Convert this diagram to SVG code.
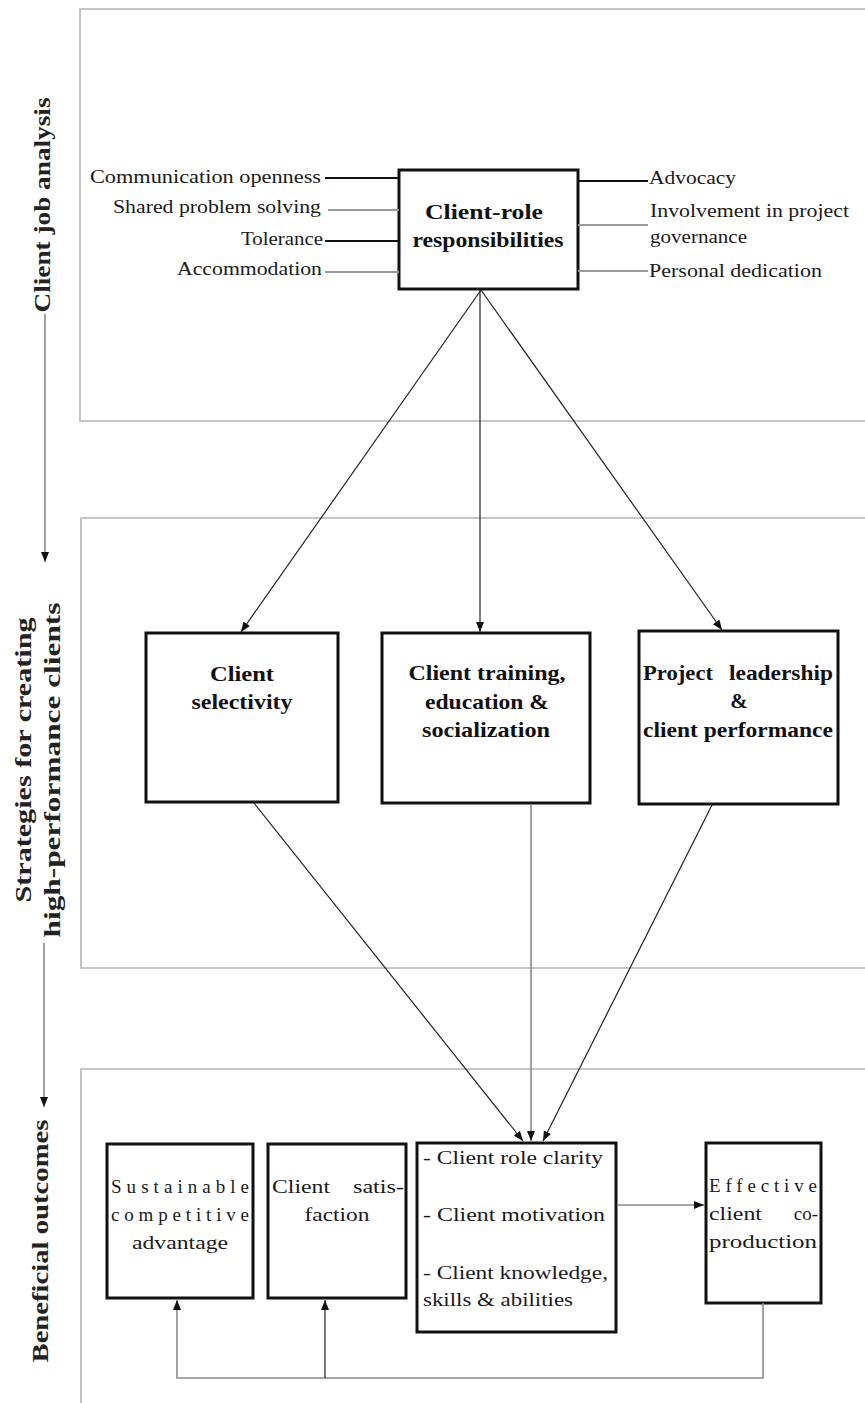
<svg xmlns="http://www.w3.org/2000/svg" width="865" height="1403" viewBox="0 0 865 1403">
<style>
.panel{fill:none;stroke:#b4b4b4;stroke-width:1.6}
.box{fill:#fff;stroke:#111;stroke-width:3}
.t{font-family:"Liberation Serif","Times New Roman",serif;font-size:19px;fill:#1a1a1a}
.b{font-family:"Liberation Serif","Times New Roman",serif;font-size:21px;font-weight:bold;fill:#111}
.side{font-family:"Liberation Serif","Times New Roman",serif;font-size:23px;font-weight:bold;fill:#222}
.k{stroke:#111;stroke-width:1.8;fill:none}
.g{stroke:#9a9a9a;stroke-width:2.2;fill:none}
.c{stroke:#222;stroke-width:1.2;fill:none}
.cg{stroke:#8a8a8a;stroke-width:1.6;fill:none}
</style>
<defs>
<marker id="ah" viewBox="0 0 10 8" refX="10" refY="4" markerWidth="10" markerHeight="8" markerUnits="userSpaceOnUse" orient="auto">
<path d="M0,0 L10,4 L0,8 Z" fill="#111"/>
</marker>
</defs>
<rect width="865" height="1403" fill="#fff"/>

<g id="panels">
<path class="panel" d="M866,9 H80 V421 H866"/>
<path class="panel" d="M866,518 H81 V968 H866"/>
<path class="panel" d="M866,1069 H81 V1404"/>
</g>

<g id="side-labels">
<text class="side" transform="translate(50,205) rotate(-90)" text-anchor="middle" textLength="215" lengthAdjust="spacingAndGlyphs">Client job analysis</text>
<text class="side" transform="translate(31,760) rotate(-90)" text-anchor="middle" textLength="285" lengthAdjust="spacingAndGlyphs">Strategies for creating</text>
<text class="side" transform="translate(60,770) rotate(-90)" text-anchor="middle" textLength="335" lengthAdjust="spacingAndGlyphs">high-performance clients</text>
<text class="side" transform="translate(48,1241) rotate(-90)" text-anchor="middle" textLength="243" lengthAdjust="spacingAndGlyphs">Beneficial outcomes</text>
</g>

<g id="client-role">
<rect class="box" x="399" y="170" width="179" height="119"/>
<text class="b" x="484" y="219" text-anchor="middle" font-size="22" textLength="118" lengthAdjust="spacingAndGlyphs">Client-role</text>
<text class="b" x="488" y="247" text-anchor="middle" font-size="22" textLength="151" lengthAdjust="spacingAndGlyphs">responsibilities</text>
</g>

<g id="left-attributes">
<text class="t" x="321" y="183" text-anchor="end" textLength="231" lengthAdjust="spacingAndGlyphs">Communication openness</text>
<text class="t" x="321" y="213" text-anchor="end" textLength="208" lengthAdjust="spacingAndGlyphs">Shared problem solving</text>
<text class="t" x="323" y="245" text-anchor="end" textLength="82" lengthAdjust="spacingAndGlyphs">Tolerance</text>
<text class="t" x="322" y="275" text-anchor="end" textLength="145" lengthAdjust="spacingAndGlyphs">Accommodation</text>
</g>

<g id="right-attributes">
<text class="t" x="649" y="184" textLength="87" lengthAdjust="spacingAndGlyphs">Advocacy</text>
<text class="t" x="650" y="217" textLength="199" lengthAdjust="spacingAndGlyphs">Involvement in project</text>
<text class="t" x="650" y="243" textLength="97" lengthAdjust="spacingAndGlyphs">governance</text>
<text class="t" x="649" y="277" textLength="173" lengthAdjust="spacingAndGlyphs">Personal dedication</text>
</g>

<g id="client-selectivity">
<rect class="box" x="146" y="633" width="192" height="169"/>
<text class="b" x="242" y="681" text-anchor="middle" textLength="64" lengthAdjust="spacingAndGlyphs">Client</text>
<text class="b" x="242" y="709" text-anchor="middle" textLength="101" lengthAdjust="spacingAndGlyphs">selectivity</text>
</g>

<g id="client-training">
<rect class="box" x="382" y="633" width="208" height="170"/>
<text class="b" x="487" y="680" text-anchor="middle" textLength="157" lengthAdjust="spacingAndGlyphs">Client training,</text>
<text class="b" x="487" y="709" text-anchor="middle" textLength="124" lengthAdjust="spacingAndGlyphs">education &amp;</text>
<text class="b" x="486" y="737" text-anchor="middle" textLength="128" lengthAdjust="spacingAndGlyphs">socialization</text>
</g>

<g id="project-leadership">
<rect class="box" x="639" y="631" width="199" height="173"/>
<text class="b" y="680"><tspan x="643" textLength="70" lengthAdjust="spacingAndGlyphs">Project</tspan> <tspan x="729" textLength="104" lengthAdjust="spacingAndGlyphs">leadership</tspan></text>
<text class="b" x="739" y="708" text-anchor="middle">&amp;</text>
<text class="b" x="643" y="737" textLength="190" lengthAdjust="spacingAndGlyphs">client performance</text>
</g>

<g id="sustainable">
<rect class="box" x="107" y="1144" width="146" height="154"/>
<text class="t" x="111" y="1193" textLength="138" lengthAdjust="spacing">Sustainable</text>
<text class="t" x="111" y="1221" textLength="138" lengthAdjust="spacing">competitive</text>
<text class="t" x="180" y="1249" text-anchor="middle" textLength="96" lengthAdjust="spacingAndGlyphs">advantage</text>
</g>

<g id="satisfaction">
<rect class="box" x="268" y="1144" width="138" height="154"/>
<text class="t" x="272" y="1193" textLength="58" lengthAdjust="spacingAndGlyphs">Client</text>
<text class="t" x="404" y="1193" text-anchor="end" textLength="51" lengthAdjust="spacingAndGlyphs">satis-</text>
<text class="t" x="337" y="1221" text-anchor="middle" textLength="65" lengthAdjust="spacingAndGlyphs">faction</text>
</g>

<g id="client-factors">
<rect class="box" x="417" y="1143" width="199" height="189"/>
<text class="t" x="423" y="1164" textLength="180" lengthAdjust="spacingAndGlyphs">- Client role clarity</text>
<text class="t" x="423" y="1221" textLength="182" lengthAdjust="spacingAndGlyphs">- Client motivation</text>
<text class="t" x="423" y="1279" textLength="185" lengthAdjust="spacingAndGlyphs">- Client knowledge,</text>
<text class="t" x="423" y="1306" textLength="150" lengthAdjust="spacingAndGlyphs">skills &amp; abilities</text>
</g>

<g id="effective">
<rect class="box" x="706" y="1143" width="115" height="160"/>
<text class="t" x="709" y="1192" textLength="108" lengthAdjust="spacing">Effective</text>
<text class="t" x="709" y="1220" textLength="53" lengthAdjust="spacingAndGlyphs">client</text>
<text class="t" x="818" y="1220" text-anchor="end">co-</text>
<text class="t" x="709" y="1248" textLength="108" lengthAdjust="spacingAndGlyphs">production</text>
</g>

<g id="connectors">
<line class="k" x1="325" y1="178" x2="399" y2="178"/>
<line class="g" x1="328" y1="210" x2="399" y2="210"/>
<line class="k" x1="325" y1="241" x2="399" y2="241"/>
<line class="g" x1="325" y1="272" x2="399" y2="272"/>
<line class="k" x1="578" y1="181" x2="648" y2="181"/>
<line class="g" x1="578" y1="225" x2="648" y2="225"/>
<line class="g" x1="578" y1="271" x2="648" y2="271" stroke="#777"/>

<line class="c" x1="481" y1="290" x2="241" y2="632" marker-end="url(#ah)"/>
<line class="c" x1="480" y1="290" x2="480" y2="632" marker-end="url(#ah)"/>
<line class="c" x1="481" y1="290" x2="722" y2="630" marker-end="url(#ah)"/>

<line class="c" x1="254" y1="803" x2="523" y2="1141" marker-end="url(#ah)"/>
<line class="cg" x1="531" y1="804" x2="531" y2="1141" marker-end="url(#ah)"/>
<line class="c" x1="712" y1="805" x2="543" y2="1141" marker-end="url(#ah)"/>

<line class="cg" x1="617" y1="1205" x2="704" y2="1205" marker-end="url(#ah)"/>
<path class="cg" d="M763,1303 V1378 H177 V1300" marker-end="url(#ah)"/>
<path class="c" d="M325,1378 V1300" stroke-width="1.6" marker-end="url(#ah)"/>

<line class="cg" x1="45" y1="314" x2="45" y2="562" marker-end="url(#ah)"/>
<line class="cg" x1="44" y1="943" x2="44" y2="1107" marker-end="url(#ah)"/>
</g>
</svg>
